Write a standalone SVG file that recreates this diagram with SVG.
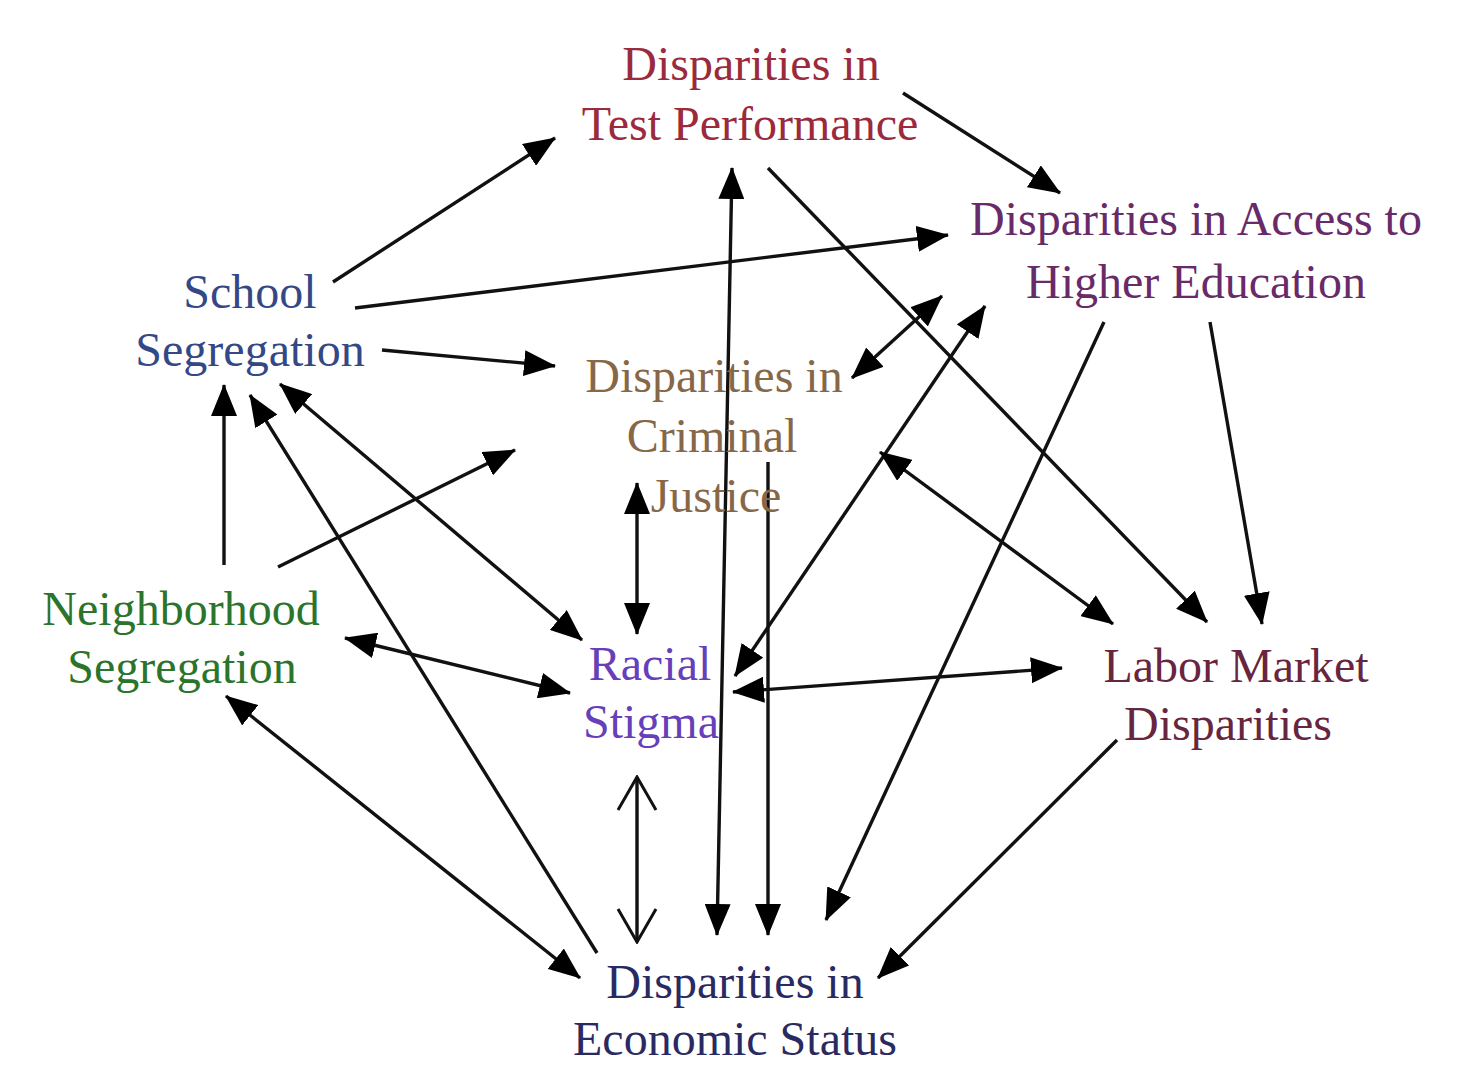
<svg xmlns="http://www.w3.org/2000/svg" width="1463" height="1069" viewBox="0 0 1463 1069">
<style>
text{font-family:"Liberation Serif","Times New Roman",serif;font-size:48px;text-anchor:middle}
.c line{stroke:#111;stroke-width:3.4;fill:none}
.e{marker-end:url(#h)}
.b{marker-start:url(#h);marker-end:url(#h)}
.o{marker-start:url(#v);marker-end:url(#v)}
</style>
<defs>
<marker id="h" viewBox="0 0 32 26" refX="31" refY="13" markerWidth="32" markerHeight="26" markerUnits="userSpaceOnUse" orient="auto-start-reverse">
<path d="M0,0 L32,13 L0,26 z" fill="#000"/>
</marker>
<marker id="v" viewBox="0 0 36 44" refX="34" refY="22" markerWidth="36" markerHeight="44" markerUnits="userSpaceOnUse" orient="auto-start-reverse">
<path d="M1,3 L34,22 L1,41" fill="none" stroke="#111" stroke-width="3"/>
</marker>
</defs>
<rect width="1463" height="1069" fill="#fff"/>
<g class="c" id="connectors">
<line class="e" x1="333" y1="282" x2="555" y2="138"/>
<line class="e" x1="903" y1="93" x2="1060" y2="193"/>
<line class="e" x1="355" y1="308" x2="948" y2="235"/>
<line class="e" x1="382" y1="350" x2="555" y2="366"/>
<line class="b" x1="732" y1="168" x2="717" y2="935"/>
<line class="e" x1="768" y1="168" x2="1207" y2="622"/>
<line class="b" x1="942" y1="296" x2="852" y2="378"/>
<line class="b" x1="735" y1="676" x2="985" y2="306"/>
<line class="e" x1="768" y1="462" x2="768" y2="935"/>
<line class="e" x1="1104" y1="322" x2="826" y2="920"/>
<line class="e" x1="1210" y1="322" x2="1262" y2="624"/>
<line class="b" x1="880" y1="452" x2="1113" y2="624"/>
<line class="b" x1="733" y1="692" x2="1062" y2="668"/>
<line class="e" x1="1117" y1="740" x2="878" y2="978"/>
<line class="b" x1="637" y1="483" x2="637" y2="634"/>
<line class="o" x1="637" y1="777" x2="637" y2="942"/>
<line class="e" x1="224" y1="565" x2="224" y2="385"/>
<line class="e" x1="278" y1="567" x2="515" y2="450"/>
<line class="b" x1="345" y1="638" x2="570" y2="693"/>
<line class="b" x1="226" y1="696" x2="580" y2="978"/>
<line class="e" x1="597" y1="953" x2="250" y2="395"/>
<line class="b" x1="280" y1="384" x2="582" y2="640"/>
</g>
<g id="test-performance" fill="#9a2a3c">
<text x="751" y="80">Disparities in</text>
<text x="750" y="140">Test Performance</text>
</g>
<g id="higher-education" fill="#682a68">
<text x="1196" y="235">Disparities in Access to</text>
<text x="1196" y="298">Higher Education</text>
</g>
<g id="school-segregation" fill="#344886">
<text x="250" y="308">School</text>
<text x="250" y="366">Segregation</text>
</g>
<g id="criminal-justice" fill="#866848">
<text x="714" y="392">Disparities in</text>
<text x="712" y="452">Criminal</text>
<text x="716" y="512">Justice</text>
</g>
<g id="neighborhood-segregation" fill="#2b742b">
<text x="181" y="625">Neighborhood</text>
<text x="182" y="683">Segregation</text>
</g>
<g id="racial-stigma" fill="#6540b8">
<text x="650" y="680">Racial</text>
<text x="651" y="738">Stigma</text>
</g>
<g id="labor-market" fill="#682540">
<text x="1236" y="682">Labor Market</text>
<text x="1228" y="740">Disparities</text>
</g>
<g id="economic-status" fill="#2a2a62">
<text x="735" y="998">Disparities in</text>
<text x="735" y="1055">Economic Status</text>
</g>
</svg>
